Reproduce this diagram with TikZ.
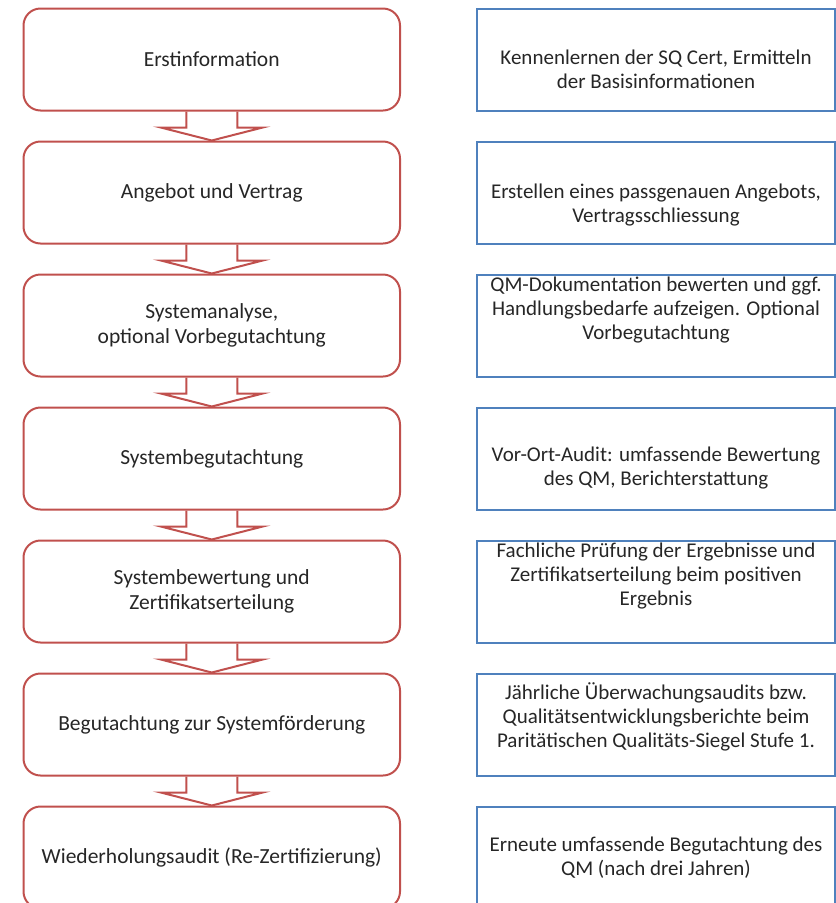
\documentclass[tikz,border=0pt]{standalone}
\usepackage{fontspec}
\setmainfont{Carlito}
\usetikzlibrary{calc}

\definecolor{stepred}{RGB}{192,80,77}
\definecolor{infoblue}{RGB}{79,129,189}

\tikzset{
	stepbox/.style={draw=stepred, line width=2pt, rounded corners=17pt,
		minimum width=376.5pt, minimum height=102pt, inner sep=0pt,
		align=center, font=\fontsize{21.5}{25}\selectfont, text=black!85},
	infobox/.style={draw=infoblue, line width=2pt,
		minimum width=358pt, minimum height=102pt, inner sep=0pt},
	infotext/.style={align=center, font=\fontsize{21}{24}\selectfont, text=black!85},
	bigarrow/.style={draw=stepred, line width=2pt, miter limit=20,
		to path={($(\tikztostart.south)+(-25.5,0)$) -- ++(0,16) -- ++(-25.5,0)
			-- (\tikztotarget.north) -- ($(\tikztostart.south)+(51,16)$)
			-- ++(-25.5,0) -- ++(0,-16)}}
}

\begin{document}
\begin{tikzpicture}[x=1pt, y=-1pt]
		\useasboundingbox (0,0) rectangle (836,903);
		\clip (0,0) rectangle (836,903);

		% Steps on the left
		\node[stepbox] (s1) at (211.75, 59.5) {Erstinformation};
		\node[stepbox] (s2) at (211.75, 192.5) {Angebot und Vertrag};
		\node[stepbox] (s3) at (211.75, 325.5) {Systemanalyse,\\ optional Vorbegutachtung};
		\node[stepbox] (s4) at (211.75, 458.5) {Systembegutachtung};
		\node[stepbox] (s5) at (211.75, 591.5) {Systembewertung und\\Zertifikatserteilung};
		\node[stepbox] (s6) at (211.75, 724.5) {Begutachtung zur Systemförderung};
		\node[stepbox] (s7) at (211.75, 857.5) {Wiederholungsaudit (Re-Zertifizierung)};

		\draw[bigarrow] (s1) to (s2);
		\draw[bigarrow] (s2) to (s3);
		\draw[bigarrow] (s3) to (s4);
		\draw[bigarrow] (s4) to (s5);
		\draw[bigarrow] (s5) to (s6);
		\draw[bigarrow] (s6) to (s7);

		% Descriptions on the right
		\node[infobox, label={[infotext, yshift=-10pt]center:{Kennenlernen der SQ Cert, Ermitteln\\der Basisinformationen}}] (i1) at (656, 59.5) {};
		\node[infobox, label={[infotext, yshift=-13pt]center:{Erstellen eines passgenauen Angebots,\\Vertragsschliessung}}] (i2) at (656, 192.5) {};
		\node[infobox, label={[infotext, yshift=15pt]center:{QM-Dokumentation bewerten und ggf.\\Handlungsbedarfe aufzeigen. Optional\\Vorbegutachtung}}] (i3) at (656, 325.5) {};
		\node[infobox, label={[infotext, yshift=-10pt]center:{Vor-Ort-Audit: umfassende Bewertung\\des QM, Berichterstattung}}] (i4) at (656, 458.5) {};
		\node[infobox, label={[infotext, yshift=15pt]center:{Fachliche Prüfung der Ergebnisse und\\Zertifikatserteilung beim positiven\\Ergebnis}}] (i5) at (656, 591.5) {};
		\node[infobox, label={[infotext, yshift=8pt]center:{Jährliche Überwachungsaudits bzw.\\Qualitätsentwicklungsberichte beim\\Paritätischen Qualitäts-Siegel Stufe 1.}}] (i6) at (656, 724.5) {};
		\node[infobox, label={[infotext]center:{Erneute umfassende Begutachtung des\\QM (nach drei Jahren)}}] (i7) at (656, 857.5) {};

	\end{tikzpicture}
\end{document}
